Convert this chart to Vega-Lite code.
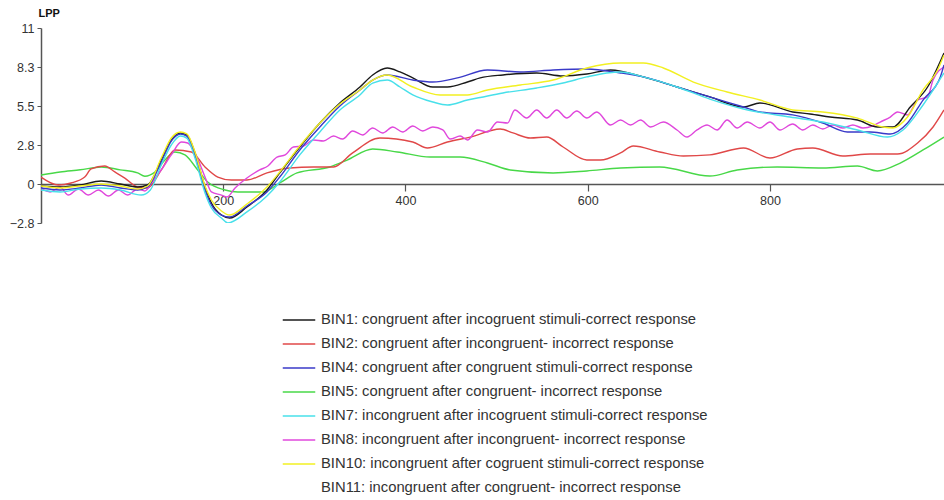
{
"$schema": "https://vega.github.io/schema/vega-lite/v6.json",
"autosize": {"type": "none"},
"padding": {"left": 41, "top": 28, "right": 0, "bottom": 277},
"width": 903,
"height": 195,
"background": "white",
"config": {"view": {"stroke": null}, "font": "Liberation Sans"},
"data": {"values": [
{"s":"BIN5","t":0,"v":0.63},{"s":"BIN5","t":21,"v":0.85},{"s":"BIN5","t":43,"v":1.0},{"s":"BIN5","t":66,"v":1.2},{"s":"BIN5","t":87,"v":1.0},{"s":"BIN5","t":106,"v":0.78},{"s":"BIN5","t":114,"v":0.55},{"s":"BIN5","t":125,"v":0.85},{"s":"BIN5","t":136,"v":1.69},{"s":"BIN5","t":147,"v":2.26},{"s":"BIN5","t":158,"v":2.05},{"s":"BIN5","t":172,"v":0.99},{"s":"BIN5","t":183,"v":0.14},{"s":"BIN5","t":202,"v":-0.42},{"s":"BIN5","t":216,"v":-0.56},{"s":"BIN5","t":244,"v":-0.56},{"s":"BIN5","t":262,"v":0.07},{"s":"BIN5","t":281,"v":0.78},{"s":"BIN5","t":317,"v":1.2},{"s":"BIN5","t":336,"v":1.69},{"s":"BIN5","t":364,"v":2.47},{"s":"BIN5","t":391,"v":2.26},{"s":"BIN5","t":427,"v":1.9},{"s":"BIN5","t":460,"v":1.9},{"s":"BIN5","t":490,"v":1.48},{"s":"BIN5","t":515,"v":0.99},{"s":"BIN5","t":562,"v":0.78},{"s":"BIN5","t":599,"v":0.92},{"s":"BIN5","t":636,"v":1.13},{"s":"BIN5","t":679,"v":1.2},{"s":"BIN5","t":734,"v":0.56},{"s":"BIN5","t":764,"v":0.99},{"s":"BIN5","t":808,"v":1.2},{"s":"BIN5","t":858,"v":1.13},{"s":"BIN5","t":896,"v":1.27},{"s":"BIN5","t":918,"v":0.92},{"s":"BIN5","t":943,"v":1.48},{"s":"BIN5","t":968,"v":2.4},{"s":"BIN5","t":991,"v":3.31},
{"s":"BIN2","t":0,"v":0.49},{"s":"BIN2","t":19,"v":-0.07},{"s":"BIN2","t":33,"v":0.07},{"s":"BIN2","t":48,"v":0.49},{"s":"BIN2","t":55,"v":1.06},{"s":"BIN2","t":70,"v":1.27},{"s":"BIN2","t":81,"v":0.85},{"s":"BIN2","t":92,"v":0.42},{"s":"BIN2","t":106,"v":-0.21},{"s":"BIN2","t":117,"v":-0.28},{"s":"BIN2","t":132,"v":0.99},{"s":"BIN2","t":147,"v":2.4},{"s":"BIN2","t":165,"v":2.26},{"s":"BIN2","t":180,"v":1.2},{"s":"BIN2","t":194,"v":0.49},{"s":"BIN2","t":209,"v":0.28},{"s":"BIN2","t":226,"v":0.28},{"s":"BIN2","t":248,"v":0.78},{"s":"BIN2","t":273,"v":1.13},{"s":"BIN2","t":299,"v":1.2},{"s":"BIN2","t":321,"v":1.2},{"s":"BIN2","t":342,"v":2.19},{"s":"BIN2","t":372,"v":3.24},{"s":"BIN2","t":408,"v":2.96},{"s":"BIN2","t":424,"v":2.54},{"s":"BIN2","t":446,"v":2.96},{"s":"BIN2","t":471,"v":3.31},{"s":"BIN2","t":504,"v":3.88},{"s":"BIN2","t":518,"v":3.6},{"s":"BIN2","t":537,"v":3.24},{"s":"BIN2","t":555,"v":3.31},{"s":"BIN2","t":573,"v":2.61},{"s":"BIN2","t":599,"v":1.69},{"s":"BIN2","t":614,"v":1.69},{"s":"BIN2","t":636,"v":2.19},{"s":"BIN2","t":650,"v":2.68},{"s":"BIN2","t":679,"v":2.26},{"s":"BIN2","t":705,"v":1.97},{"s":"BIN2","t":734,"v":2.05},{"s":"BIN2","t":771,"v":2.54},{"s":"BIN2","t":800,"v":1.83},{"s":"BIN2","t":830,"v":2.47},{"s":"BIN2","t":847,"v":2.54},{"s":"BIN2","t":880,"v":1.97},{"s":"BIN2","t":910,"v":2.12},{"s":"BIN2","t":940,"v":2.12},{"s":"BIN2","t":962,"v":2.89},{"s":"BIN2","t":979,"v":4.02},{"s":"BIN2","t":991,"v":5.22},
{"s":"BIN8","t":0,"v":-0.28},{"s":"BIN8","t":10,"v":-0.56},{"s":"BIN8","t":21,"v":-0.21},{"s":"BIN8","t":30,"v":-0.78},{"s":"BIN8","t":41,"v":-0.35},{"s":"BIN8","t":52,"v":-0.78},{"s":"BIN8","t":63,"v":-0.42},{"s":"BIN8","t":74,"v":-0.85},{"s":"BIN8","t":85,"v":-0.42},{"s":"BIN8","t":95,"v":-0.78},{"s":"BIN8","t":106,"v":-0.35},{"s":"BIN8","t":114,"v":-0.49},{"s":"BIN8","t":122,"v":0.14},{"s":"BIN8","t":132,"v":0.99},{"s":"BIN8","t":143,"v":2.05},{"s":"BIN8","t":154,"v":2.96},{"s":"BIN8","t":161,"v":2.89},{"s":"BIN8","t":169,"v":2.19},{"s":"BIN8","t":180,"v":0.49},{"s":"BIN8","t":187,"v":-0.56},{"s":"BIN8","t":198,"v":-0.78},{"s":"BIN8","t":204,"v":-0.92},{"s":"BIN8","t":213,"v":-0.28},{"s":"BIN8","t":226,"v":0.42},{"s":"BIN8","t":240,"v":0.99},{"s":"BIN8","t":249,"v":1.27},{"s":"BIN8","t":259,"v":1.9},{"s":"BIN8","t":268,"v":2.05},{"s":"BIN8","t":277,"v":2.61},{"s":"BIN8","t":288,"v":2.68},{"s":"BIN8","t":299,"v":3.1},{"s":"BIN8","t":310,"v":3.03},{"s":"BIN8","t":321,"v":3.38},{"s":"BIN8","t":331,"v":3.17},{"s":"BIN8","t":342,"v":3.74},{"s":"BIN8","t":353,"v":3.46},{"s":"BIN8","t":364,"v":3.95},{"s":"BIN8","t":375,"v":3.6},{"s":"BIN8","t":386,"v":4.02},{"s":"BIN8","t":397,"v":3.67},{"s":"BIN8","t":408,"v":4.09},{"s":"BIN8","t":419,"v":3.74},{"s":"BIN8","t":430,"v":4.02},{"s":"BIN8","t":441,"v":3.81},{"s":"BIN8","t":449,"v":3.17},{"s":"BIN8","t":460,"v":3.38},{"s":"BIN8","t":468,"v":3.1},{"s":"BIN8","t":479,"v":3.81},{"s":"BIN8","t":490,"v":3.67},{"s":"BIN8","t":501,"v":4.37},{"s":"BIN8","t":512,"v":4.3},{"s":"BIN8","t":520,"v":5.22},{"s":"BIN8","t":533,"v":4.65},{"s":"BIN8","t":544,"v":5.22},{"s":"BIN8","t":555,"v":4.65},{"s":"BIN8","t":566,"v":5.22},{"s":"BIN8","t":577,"v":4.65},{"s":"BIN8","t":588,"v":5.15},{"s":"BIN8","t":599,"v":4.65},{"s":"BIN8","t":610,"v":5.08},{"s":"BIN8","t":625,"v":4.16},{"s":"BIN8","t":636,"v":4.51},{"s":"BIN8","t":647,"v":4.16},{"s":"BIN8","t":658,"v":4.51},{"s":"BIN8","t":669,"v":4.02},{"s":"BIN8","t":683,"v":4.37},{"s":"BIN8","t":698,"v":3.81},{"s":"BIN8","t":709,"v":3.31},{"s":"BIN8","t":720,"v":3.81},{"s":"BIN8","t":731,"v":4.16},{"s":"BIN8","t":742,"v":3.81},{"s":"BIN8","t":753,"v":4.51},{"s":"BIN8","t":764,"v":3.95},{"s":"BIN8","t":775,"v":4.37},{"s":"BIN8","t":789,"v":3.95},{"s":"BIN8","t":800,"v":4.37},{"s":"BIN8","t":811,"v":3.81},{"s":"BIN8","t":825,"v":4.23},{"s":"BIN8","t":836,"v":3.81},{"s":"BIN8","t":847,"v":4.16},{"s":"BIN8","t":858,"v":3.88},{"s":"BIN8","t":869,"v":4.16},{"s":"BIN8","t":880,"v":3.95},{"s":"BIN8","t":891,"v":4.16},{"s":"BIN8","t":902,"v":3.95},{"s":"BIN8","t":913,"v":4.1},{"s":"BIN8","t":921,"v":4.37},{"s":"BIN8","t":932,"v":4.72},{"s":"BIN8","t":940,"v":5.08},{"s":"BIN8","t":951,"v":4.87},{"s":"BIN8","t":962,"v":5.92},{"s":"BIN8","t":973,"v":6.14},{"s":"BIN8","t":979,"v":7.33},{"s":"BIN8","t":991,"v":8.25},
{"s":"BIN1","t":0,"v":-0.14},{"s":"BIN1","t":21,"v":-0.21},{"s":"BIN1","t":43,"v":-0.07},{"s":"BIN1","t":66,"v":0.21},{"s":"BIN1","t":87,"v":0.0},{"s":"BIN1","t":106,"v":-0.21},{"s":"BIN1","t":117,"v":-0.07},{"s":"BIN1","t":132,"v":1.69},{"s":"BIN1","t":143,"v":3.1},{"s":"BIN1","t":153,"v":3.6},{"s":"BIN1","t":160,"v":3.46},{"s":"BIN1","t":169,"v":2.19},{"s":"BIN1","t":180,"v":-0.21},{"s":"BIN1","t":187,"v":-1.34},{"s":"BIN1","t":198,"v":-2.19},{"s":"BIN1","t":207,"v":-2.4},{"s":"BIN1","t":226,"v":-1.62},{"s":"BIN1","t":248,"v":-0.42},{"s":"BIN1","t":262,"v":0.78},{"s":"BIN1","t":284,"v":2.61},{"s":"BIN1","t":306,"v":4.3},{"s":"BIN1","t":328,"v":5.71},{"s":"BIN1","t":350,"v":6.84},{"s":"BIN1","t":364,"v":7.69},{"s":"BIN1","t":380,"v":8.18},{"s":"BIN1","t":394,"v":7.9},{"s":"BIN1","t":408,"v":7.48},{"s":"BIN1","t":430,"v":6.84},{"s":"BIN1","t":446,"v":6.84},{"s":"BIN1","t":468,"v":7.19},{"s":"BIN1","t":482,"v":7.48},{"s":"BIN1","t":507,"v":7.69},{"s":"BIN1","t":544,"v":7.83},{"s":"BIN1","t":573,"v":7.62},{"s":"BIN1","t":599,"v":7.76},{"s":"BIN1","t":625,"v":8.04},{"s":"BIN1","t":661,"v":7.55},{"s":"BIN1","t":698,"v":6.84},{"s":"BIN1","t":734,"v":6.14},{"s":"BIN1","t":771,"v":5.43},{"s":"BIN1","t":789,"v":5.71},{"s":"BIN1","t":825,"v":5.08},{"s":"BIN1","t":844,"v":4.94},{"s":"BIN1","t":866,"v":4.72},{"s":"BIN1","t":896,"v":4.51},{"s":"BIN1","t":918,"v":4.02},{"s":"BIN1","t":935,"v":4.02},{"s":"BIN1","t":954,"v":5.43},{"s":"BIN1","t":973,"v":6.84},{"s":"BIN1","t":991,"v":9.24},
{"s":"BIN4","t":0,"v":-0.28},{"s":"BIN4","t":21,"v":-0.42},{"s":"BIN4","t":43,"v":-0.28},{"s":"BIN4","t":66,"v":-0.07},{"s":"BIN4","t":87,"v":-0.28},{"s":"BIN4","t":106,"v":-0.42},{"s":"BIN4","t":117,"v":-0.21},{"s":"BIN4","t":132,"v":1.55},{"s":"BIN4","t":143,"v":3.03},{"s":"BIN4","t":153,"v":3.53},{"s":"BIN4","t":160,"v":3.38},{"s":"BIN4","t":169,"v":2.05},{"s":"BIN4","t":180,"v":-0.42},{"s":"BIN4","t":187,"v":-1.48},{"s":"BIN4","t":198,"v":-2.19},{"s":"BIN4","t":207,"v":-2.33},{"s":"BIN4","t":226,"v":-1.55},{"s":"BIN4","t":248,"v":-0.56},{"s":"BIN4","t":262,"v":0.49},{"s":"BIN4","t":284,"v":2.4},{"s":"BIN4","t":306,"v":4.02},{"s":"BIN4","t":328,"v":5.5},{"s":"BIN4","t":350,"v":6.63},{"s":"BIN4","t":364,"v":7.33},{"s":"BIN4","t":380,"v":7.69},{"s":"BIN4","t":408,"v":7.33},{"s":"BIN4","t":430,"v":7.19},{"s":"BIN4","t":457,"v":7.48},{"s":"BIN4","t":490,"v":8.04},{"s":"BIN4","t":526,"v":7.9},{"s":"BIN4","t":562,"v":8.04},{"s":"BIN4","t":599,"v":8.11},{"s":"BIN4","t":636,"v":7.83},{"s":"BIN4","t":661,"v":7.55},{"s":"BIN4","t":698,"v":6.84},{"s":"BIN4","t":734,"v":6.14},{"s":"BIN4","t":771,"v":5.43},{"s":"BIN4","t":789,"v":5.08},{"s":"BIN4","t":825,"v":4.87},{"s":"BIN4","t":858,"v":4.3},{"s":"BIN4","t":885,"v":3.67},{"s":"BIN4","t":910,"v":3.67},{"s":"BIN4","t":932,"v":3.53},{"s":"BIN4","t":951,"v":4.3},{"s":"BIN4","t":968,"v":5.92},{"s":"BIN4","t":987,"v":7.55},{"s":"BIN4","t":991,"v":8.39},
{"s":"BIN7","t":0,"v":-0.42},{"s":"BIN7","t":21,"v":-0.56},{"s":"BIN7","t":43,"v":-0.35},{"s":"BIN7","t":66,"v":-0.28},{"s":"BIN7","t":87,"v":-0.42},{"s":"BIN7","t":110,"v":-0.78},{"s":"BIN7","t":120,"v":-0.42},{"s":"BIN7","t":132,"v":1.34},{"s":"BIN7","t":143,"v":2.75},{"s":"BIN7","t":153,"v":3.38},{"s":"BIN7","t":160,"v":3.24},{"s":"BIN7","t":169,"v":1.83},{"s":"BIN7","t":180,"v":-0.63},{"s":"BIN7","t":187,"v":-1.69},{"s":"BIN7","t":198,"v":-2.4},{"s":"BIN7","t":205,"v":-2.75},{"s":"BIN7","t":226,"v":-1.97},{"s":"BIN7","t":248,"v":-0.85},{"s":"BIN7","t":262,"v":0.14},{"s":"BIN7","t":284,"v":2.05},{"s":"BIN7","t":306,"v":3.67},{"s":"BIN7","t":328,"v":5.22},{"s":"BIN7","t":350,"v":6.28},{"s":"BIN7","t":364,"v":7.12},{"s":"BIN7","t":380,"v":7.33},{"s":"BIN7","t":394,"v":6.84},{"s":"BIN7","t":408,"v":6.28},{"s":"BIN7","t":430,"v":5.78},{"s":"BIN7","t":446,"v":5.57},{"s":"BIN7","t":468,"v":5.92},{"s":"BIN7","t":482,"v":6.1},{"s":"BIN7","t":507,"v":6.42},{"s":"BIN7","t":544,"v":6.77},{"s":"BIN7","t":573,"v":7.12},{"s":"BIN7","t":599,"v":7.55},{"s":"BIN7","t":621,"v":7.83},{"s":"BIN7","t":636,"v":7.9},{"s":"BIN7","t":661,"v":7.55},{"s":"BIN7","t":698,"v":6.84},{"s":"BIN7","t":734,"v":5.99},{"s":"BIN7","t":771,"v":5.29},{"s":"BIN7","t":822,"v":4.72},{"s":"BIN7","t":858,"v":4.37},{"s":"BIN7","t":896,"v":3.81},{"s":"BIN7","t":929,"v":3.31},{"s":"BIN7","t":946,"v":3.81},{"s":"BIN7","t":968,"v":5.57},{"s":"BIN7","t":991,"v":7.83},
{"s":"BIN10","t":0,"v":-0.14},{"s":"BIN10","t":21,"v":-0.28},{"s":"BIN10","t":43,"v":-0.14},{"s":"BIN10","t":66,"v":0.0},{"s":"BIN10","t":87,"v":-0.14},{"s":"BIN10","t":106,"v":-0.35},{"s":"BIN10","t":117,"v":-0.14},{"s":"BIN10","t":132,"v":1.83},{"s":"BIN10","t":143,"v":3.24},{"s":"BIN10","t":153,"v":3.67},{"s":"BIN10","t":160,"v":3.53},{"s":"BIN10","t":169,"v":2.26},{"s":"BIN10","t":180,"v":-0.14},{"s":"BIN10","t":187,"v":-1.13},{"s":"BIN10","t":198,"v":-1.9},{"s":"BIN10","t":207,"v":-2.19},{"s":"BIN10","t":226,"v":-1.41},{"s":"BIN10","t":248,"v":-0.21},{"s":"BIN10","t":262,"v":0.85},{"s":"BIN10","t":284,"v":2.68},{"s":"BIN10","t":306,"v":4.3},{"s":"BIN10","t":328,"v":5.64},{"s":"BIN10","t":350,"v":6.63},{"s":"BIN10","t":364,"v":7.33},{"s":"BIN10","t":380,"v":7.69},{"s":"BIN10","t":408,"v":6.84},{"s":"BIN10","t":438,"v":6.28},{"s":"BIN10","t":468,"v":6.28},{"s":"BIN10","t":490,"v":6.63},{"s":"BIN10","t":526,"v":6.98},{"s":"BIN10","t":562,"v":7.33},{"s":"BIN10","t":599,"v":8.18},{"s":"BIN10","t":636,"v":8.53},{"s":"BIN10","t":661,"v":8.53},{"s":"BIN10","t":683,"v":8.18},{"s":"BIN10","t":716,"v":7.19},{"s":"BIN10","t":753,"v":6.49},{"s":"BIN10","t":789,"v":5.92},{"s":"BIN10","t":825,"v":5.22},{"s":"BIN10","t":858,"v":5.08},{"s":"BIN10","t":896,"v":4.65},{"s":"BIN10","t":924,"v":4.02},{"s":"BIN10","t":935,"v":3.95},{"s":"BIN10","t":951,"v":4.72},{"s":"BIN10","t":968,"v":6.63},{"s":"BIN10","t":984,"v":8.04},{"s":"BIN10","t":991,"v":9.1}
]},
"mark": {"type": "line", "interpolate": "monotone", "strokeWidth": 1.4, "clip": true},
"encoding": {
"x": {"field": "t", "type": "quantitative",
"scale": {"domain": [0, 991], "nice": false, "zero": false},
"axis": {"orient": "bottom", "offset": -39, "values": [200, 400, 600, 800], "title": null, "grid": false,
"domainColor": "#555555", "domainWidth": 1.5, "tickColor": "#555555", "tickSize": 7, "tickWidth": 1.2,
"labelFontSize": 12.5, "labelColor": "#333333", "labelPadding": 3}},
"y": {"field": "v", "type": "quantitative",
"scale": {"domain": [-2.75, 11], "nice": false, "zero": false},
"axis": {"values": [-2.75, 0, 2.75, 5.5, 8.25, 11], "grid": false,
"labelExpr": "datum.value == 11 ? '11' : datum.value == 0 ? '0' : format(datum.value, '.1f')",
"domainColor": "#555555", "domainWidth": 1.5, "tickColor": "#555555", "tickSize": 4,
"labelFontSize": 12.5, "labelColor": "#333333", "labelPadding": 3,
"title": "LPP", "titleAngle": 0, "titleAlign": "left", "titleBaseline": "bottom", "titleX": -3, "titleY": -10,
"titleFontSize": 11, "titleFontWeight": "bold", "titleColor": "#111111"}},
"color": {"field": "s", "type": "nominal",
"scale": {"domain": ["BIN1", "BIN2", "BIN4", "BIN5", "BIN7", "BIN8", "BIN10", "BIN11"],
"range": ["#1a1a1a", "#e04848", "#3a3ac8", "#48d848", "#48e0ea", "#e048dc", "#f2f022", "#ffffff"]},
"legend": {"orient": "none", "legendX": 241, "legendY": 275, "title": null,
"symbolType": "stroke", "symbolSize": 1056, "symbolStrokeWidth": 1.5, "rowPadding": -11,
"labelFontSize": 14.8, "labelColor": "#333333", "labelOffset": 5, "labelLimit": 700,
"labelExpr": "{'BIN1':'BIN1: congruent after incogruent stimuli-correct response','BIN2':'BIN2: congruent after incongruent- incorrect response','BIN4':'BIN4: congruent after congruent stimuli-correct response','BIN5':'BIN5: congruent after congruent- incorrect response','BIN7':'BIN7: incongruent after incogruent stimuli-correct response','BIN8':'BIN8: incongruent after incongruent- incorrect response','BIN10':'BIN10: incongruent after cogruent stimuli-correct response','BIN11':'BIN11: incongruent after congruent- incorrect response'}[datum.label]"}}
}
}
